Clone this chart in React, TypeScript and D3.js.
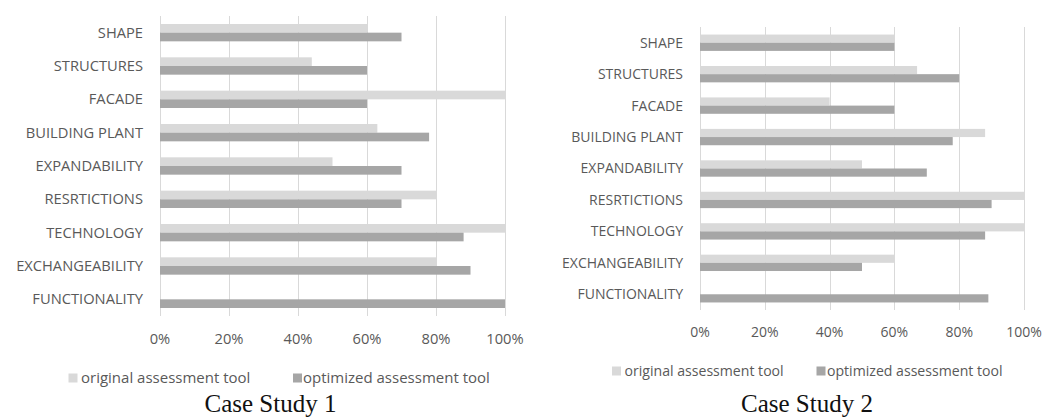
import React, { useRef, useEffect } from 'react';
import * as d3 from 'd3';

// Criteria, top to bottom
const categories = [
    "SHAPE",
    "STRUCTURES",
    "FACADE",
    "BUILDING PLANT",
    "EXPANDABILITY",
    "RESRTICTIONS",
    "TECHNOLOGY",
    "EXCHANGEABILITY",
    "FUNCTIONALITY",
];

const tickValues = [0, 20, 40, 60, 80, 100];

const seriesNames = ["original assessment tool", "optimized assessment tool"];
const seriesColors = ["#d9d9d9", "#a6a6a6"];

// Case study 1 (percent)
const case1Original = [60, 44, 100, 63, 50, 80, 100, 80, 0];
const case1Optimized = [70, 60, 60, 78, 70, 70, 88, 90, 100];

// Case study 2 (percent)
const case2Original = [60, 67, 40, 88, 50, 100, 100, 60, 0];
const case2Optimized = [60, 80, 60, 78, 70, 90, 88, 50, 89];

interface PanelLayout {
    title: string;
    values: number[][];
    x0: number;
    x1: number;
    y0: number;
    y1: number;
    fontSize: number;
    legendFont: number;
    tickY: number;
    legendY: number;
    legendSquares: number[];
    legendTexts: number[];
    captionX: number;
}

const panels: PanelLayout[] = [
    {
        title: "Case Study 1",
        values: [case1Original, case1Optimized],
        x0: 160, x1: 505, y0: 16, y1: 316,
        fontSize: 14.7, legendFont: 15, tickY: 344, legendY: 378,
        legendSquares: [68.5, 293], legendTexts: [81, 303],
        captionX: 270.5,
    },
    {
        title: "Case Study 2",
        values: [case2Original, case2Optimized],
        x0: 700, x1: 1024, y0: 27, y1: 310,
        fontSize: 14, legendFont: 14.1, tickY: 337, legendY: 371,
        legendSquares: [612, 816.5], legendTexts: [624.5, 827],
        captionX: 807,
    },
];

const textColor = "#595959";
const gridColor = "#d9d9d9";
const sans = "'Open Sans', sans-serif";

function App() {
    const svgRef = useRef<SVGSVGElement | null>(null);

    useEffect(() => {
        if (!svgRef.current) return;
        const svg = d3.select(svgRef.current);
        svg.selectAll("*").remove();

        panels.forEach(p => {
            const g = svg.append("g");

            const x = d3.scaleLinear().domain([0, 100]).range([p.x0, p.x1]);
            const y = d3.scaleBand<string>()
                .domain(categories)
                .range([p.y0, p.y1])
                .paddingInner(0.48)
                .paddingOuter(0.24);
            const inner = d3.scaleBand<number>()
                .domain([0, 1])
                .range([0, y.bandwidth()]);

            // vertical gridlines
            g.append("g")
                .selectAll("line")
                .data(tickValues)
                .join("line")
                .attr("x1", d => Math.round(x(d)) + 0.5)
                .attr("x2", d => Math.round(x(d)) + 0.5)
                .attr("y1", p.y0)
                .attr("y2", p.y1)
                .attr("stroke", gridColor)
                .attr("stroke-width", 1);

            // bars
            g.append("g")
                .selectAll("g")
                .data(p.values)
                .join("g")
                .attr("fill", (_, i) => seriesColors[i])
                .each(function (vals, si) {
                    d3.select(this)
                        .selectAll("rect")
                        .data(vals)
                        .join("rect")
                        .attr("x", x(0))
                        .attr("y", (_, i) => y(categories[i])! + inner(si)!)
                        .attr("width", d => x(d) - x(0))
                        .attr("height", inner.bandwidth());
                });

            // category labels
            g.append("g")
                .selectAll("text")
                .data(categories)
                .join("text")
                .attr("x", p.x0 - 17)
                .attr("y", d => y(d)! + y.bandwidth() / 2)
                .attr("dy", "0.35em")
                .attr("text-anchor", "end")
                .attr("font-family", sans)
                .attr("font-size", p.fontSize)
                .attr("fill", textColor)
                .text(d => d);

            // tick labels
            g.append("g")
                .selectAll("text")
                .data(tickValues)
                .join("text")
                .attr("x", d => x(d))
                .attr("y", p.tickY)
                .attr("text-anchor", "middle")
                .attr("font-family", sans)
                .attr("font-size", p.fontSize)
                .attr("fill", textColor)
                .text(d => `${d}%`);

            // legend
            const lg = g.append("g");
            seriesNames.forEach((name, i) => {
                lg.append("rect")
                    .attr("x", p.legendSquares[i])
                    .attr("y", p.legendY - 4.5)
                    .attr("width", 9)
                    .attr("height", 9)
                    .attr("fill", seriesColors[i]);
                lg.append("text")
                    .attr("x", p.legendTexts[i])
                    .attr("y", p.legendY)
                    .attr("dy", "0.35em")
                    .attr("font-family", sans)
                    .attr("font-size", p.legendFont)
                    .attr("fill", textColor)
                    .text(name);
            });

            // caption
            g.append("text")
                .attr("x", p.captionX)
                .attr("y", 412)
                .attr("text-anchor", "middle")
                .attr("font-family", "'Liberation Serif', serif")
                .attr("font-size", 25)
                .attr("fill", "#111")
                .text(p.title);
        });
    }, []);

    return (
        <div style={{ position: "absolute", left: 0, top: 0 }}>
            <svg ref={svgRef} width={1059} height={417} style={{ display: "block", background: "#fff" }}></svg>
        </div>
    );
}

export default App;
